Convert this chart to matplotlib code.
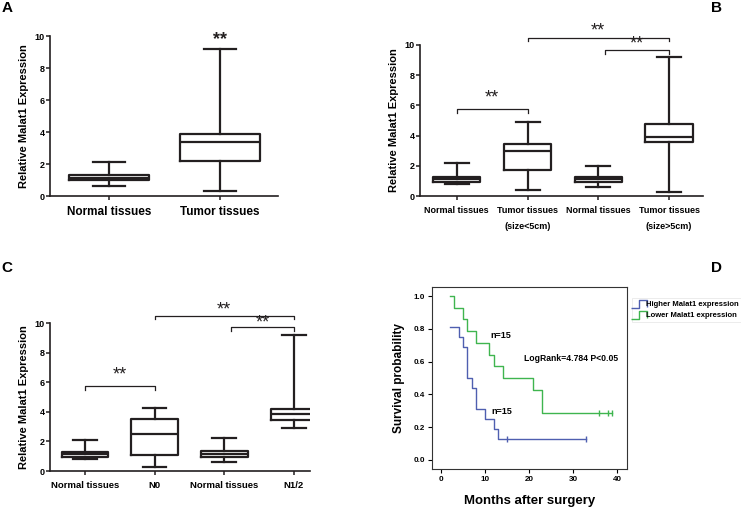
import numpy as np
import matplotlib
matplotlib.use('Agg')
from matplotlib import pyplot as plt
from matplotlib.path import Path
from matplotlib.lines import Line2D

plt.rcParams['font.family'] = ['Liberation Sans', 'DejaVu Sans']
plt.rcParams['font.weight'] = 'bold'

# panel A
a_labels = ['Normal tissues', 'Tumor tissues']
a_low = [0.6, 0.3]
a_q1 = [0.97, 2.2]
a_med = [1.12, 3.4]
a_q3 = [1.3, 3.9]
a_high = [2.1, 9.2]

# panel B
b_labels = ['Normal tissues', 'Tumor tissues\n(size<5cm)', 'Normal tissues', 'Tumor tissues\n(size>5cm)']
b_low = [0.8, 0.4, 0.62, 0.28]
b_q1 = [0.92, 1.7, 0.95, 3.6]
b_med = [1.1, 3.0, 1.1, 3.9]
b_q3 = [1.28, 3.44, 1.28, 4.75]
b_high = [2.2, 4.9, 2.0, 9.2]

# panel C
c_labels = ['Normal tissues', 'N0', 'Normal tissues', 'N1/2']
c_low = [0.79, 0.29, 0.6, 2.89]
c_q1 = [0.93, 1.08, 0.97, 3.45]
c_med = [1.13, 2.5, 1.15, 3.83]
c_q3 = [1.3, 3.51, 1.33, 4.19]
c_high = [2.1, 4.24, 2.2, 9.2]

# panel D, Kaplan-Meier
hi_t = [2, 4, 5, 6, 7, 8, 10, 12, 13, 15, 33]
hi_s = [0.8125, 0.75, 0.6875, 0.5, 0.4375, 0.3125, 0.25, 0.1875, 0.125, 0.125, 0.125]
hi_cens = [15, 33]
lo_t = [2, 3, 5, 6, 8, 11, 12, 14, 21, 23, 36, 38, 39]
lo_s = [1.0, 0.929, 0.857, 0.786, 0.714, 0.643, 0.571, 0.5, 0.429, 0.286, 0.286, 0.286, 0.286]
lo_cens = [36, 38, 39]

W = 741
H = 511
fig = plt.figure(figsize=(W / 100, H / 100), dpi=100)


def ax_px(x0, x1, ytop, ybot):
    return fig.add_axes([x0 / W, 1 - ybot / H, (x1 - x0) / W, (ybot - ytop) / H])


def boxpanel(ax, low, q1, med, q3, high, labels, xlim, width, capw, fs):
    stats = []
    for i in range(len(low)):
        stats.append(dict(whislo=low[i], q1=q1[i], med=med[i], q3=q3[i], whishi=high[i], fliers=[]))
    pos = np.arange(1, len(low) + 1)
    lw = 1.6
    ax.bxp(stats, positions=pos, widths=width, capwidths=capw, showfliers=False,
           boxprops=dict(color='#231f20', linewidth=lw),
           medianprops=dict(color='#231f20', linewidth=lw),
           whiskerprops=dict(color='#231f20', linewidth=lw),
           capprops=dict(color='#231f20', linewidth=lw))
    ax.set_xlim(xlim)
    ax.set_ylim(0, 10)
    ax.set_yticks([0, 2, 4, 6, 8, 10])
    ax.set_xticks(pos)
    ax.set_xticklabels(labels, fontsize=fs, fontweight='bold', linespacing=2.1)
    ax.spines['top'].set_visible(False)
    ax.spines['right'].set_visible(False)
    ax.spines['left'].set_bounds(0, 10)
    for s in ['left', 'bottom']:
        ax.spines[s].set_linewidth(1.2)
        ax.spines[s].set_color('#231f20')
    ax.tick_params(axis='both', direction='out', length=3, width=1.1, color='#231f20')
    ax.tick_params(axis='y', labelsize=6.5, pad=1)
    ax.tick_params(axis='x', pad=4)
    ax.set_ylabel('Relative Malat1 Expression', fontsize=8, fontweight='bold', labelpad=4)


def bracket(ax, x1, x2, y, h, txt_y):
    ax.plot([x1, x1, x2, x2], [y - h, y, y, y - h], color='#231f20', lw=0.9, clip_on=False)
    ax.text((x1 + x2) / 2, txt_y, '**', ha='center', va='center', fontsize=13,
            fontweight='normal', color='#231f20', clip_on=False)


# A
axA = ax_px(50, 278, 36, 196)
boxpanel(axA, a_low, a_q1, a_med, a_q3, a_high, a_labels, (0.47, 2.52), 0.72, 0.29, 8.5)
axA.text(2, 9.75, '**', ha='center', va='center', fontsize=13, color='#231f20')

# B
axB = ax_px(420, 703, 45, 196)
boxpanel(axB, b_low, b_q1, b_med, b_q3, b_high, b_labels, (0.48, 4.48), 0.67, 0.34, 6.5)
bracket(axB, 1, 2, 5.76, 0.25, 6.47)
bracket(axB, 2, 4, 10.49, 0.25, 10.9)
bracket(axB, 3.1, 4, 9.67, 0.25, 10.05)

# C
axC = ax_px(50, 310, 323, 471)
boxpanel(axC, c_low, c_q1, c_med, c_q3, c_high, c_labels, (0.5, 4.23), 0.67, 0.34, 6.8)
bracket(axC, 1, 2, 5.75, 0.25, 6.5)
bracket(axC, 2, 4, 10.49, 0.25, 10.9)
bracket(axC, 3.1, 4, 9.7, 0.25, 10.0)

# D
axD = ax_px(432, 627, 287, 469)
blue = '#4f5fb0'
green = '#3fb54f'
axD.step(hi_t, hi_s, where='post', color=blue, lw=1.0)
axD.step(lo_t, lo_s, where='post', color=green, lw=1.0)
axD.plot(hi_cens, [0.125] * len(hi_cens), '|', color=blue, ms=4, mew=1.0)
axD.plot(lo_cens, [0.286] * len(lo_cens), '|', color=green, ms=4, mew=1.0)
axD.set_xlim(-2.05, 42.3)
axD.set_ylim(-0.055, 1.055)
axD.set_xticks([0, 10, 20, 30, 40])
axD.set_yticks([0.0, 0.2, 0.4, 0.6, 0.8, 1.0])
axD.set_yticklabels(['0.0', '0.2', '0.4', '0.6', '0.8', '1.0'])
axD.tick_params(axis='both', direction='out', length=3, width=0.8, labelsize=5.8, pad=2)
for s in axD.spines.values():
    s.set_linewidth(0.8)
    s.set_color('#333333')
axD.set_ylabel('Survival probability', fontsize=8.5, fontweight='bold', labelpad=6)
axD.set_xlabel('Months after surgery', fontsize=9.5, fontweight='bold', labelpad=9)
axD.text(11.3, 0.762, 'n=15', fontsize=6.5, fontweight='bold', va='center')
axD.text(11.5, 0.293, 'n=15', fontsize=6.5, fontweight='bold', va='center')
axD.text(18.9, 0.616, 'LogRank=4.784 P<0.05', fontsize=6.2, fontweight='bold', va='center')

step_marker = Path([(-1.0, -0.5), (0.0, -0.5), (0.0, 0.5), (1.0, 0.5), (1.0, -0.3)])
handles = [Line2D([], [], linestyle='none', marker=step_marker, markersize=12, color=blue,
                  markerfacecolor='none', markeredgewidth=1.0),
           Line2D([], [], linestyle='none', marker=step_marker, markersize=12, color=green,
                  markerfacecolor='none', markeredgewidth=1.0)]
leg = fig.legend(handles, ['Higher Malat1 expression', 'Lower Malat1 expression'],
                 loc='upper left', bbox_to_anchor=(628 / W, 1 - 294 / H), frameon=True,
                 fontsize=5.5, handlelength=1.2, handletextpad=0.3, labelspacing=0.5,
                 borderpad=0.4, fancybox=False)
leg.get_frame().set_edgecolor('#e4e4e4')
leg.get_frame().set_linewidth(0.6)
for t in leg.get_texts():
    t.set_fontweight('bold')

# panel letters
for lab, x, y in [('A', 7, 8), ('B', 717, 8), ('C', 7, 268), ('D', 717, 268)]:
    fig.text(x / W, 1 - y / H, lab, fontsize=11, fontweight='bold', ha='center', va='center')

plt.savefig('out.png', dpi=100)
